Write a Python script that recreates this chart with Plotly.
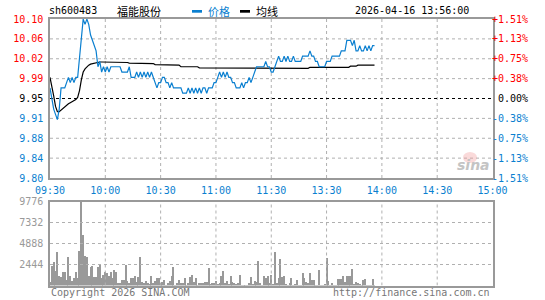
import plotly.graph_objects as go

# ---------------- data ----------------
stock_code = "sh600483"
stock_name = "福能股份"
timestamp = "2026-04-16 13:56:00"
prev_close = 9.95

price = [
    9.97, 9.95, 9.93, 9.92, 9.91, 9.93, 9.97, 9.97, 9.97, 9.98,
    9.99, 9.98, 9.99, 9.98, 9.99, 9.99, 10.03, 10.07, 10.10, 10.09,
    10.10, 10.09, 10.07, 10.06, 10.05, 10.04, 10.01, 10.02, 10.00, 10.01,
    10.00, 10.01, 10.00, 10.01, 10.01, 10.01, 10.01, 10.01, 10.01, 10.00,
    10.00, 10.00, 10.00, 10.01, 9.99, 9.99, 9.99, 10.00, 9.99, 10.00,
    9.99, 10.00, 9.99, 10.00, 9.99, 10.00, 9.99, 9.98, 9.97, 9.98,
    9.98, 9.99, 9.99, 9.98, 9.98, 9.97, 9.98, 9.97, 9.97, 9.97,
    9.97, 9.97, 9.96, 9.96, 9.96, 9.97, 9.96, 9.97, 9.96, 9.97,
    9.96, 9.97, 9.96, 9.97, 9.97, 9.96, 9.97, 9.97, 9.97, 9.98,
    9.98, 9.99, 10.00, 9.99, 10.00, 9.99, 10.00, 9.99, 9.99, 9.98,
    9.98, 9.97, 9.97, 9.97, 9.98, 9.97, 9.98, 9.98, 9.99, 9.98,
    9.99, 10.00, 10.01, 10.01, 10.01, 10.01, 10.01, 10.02, 10.01, 10.01,
    10.00,
    10.00, 10.01, 10.02, 10.03, 10.02, 10.02, 10.03, 10.02, 10.03, 10.02,
    10.02, 10.03, 10.02, 10.02, 10.02, 10.02, 10.03, 10.03, 10.03, 10.03,
    10.04, 10.03, 10.03, 10.02, 10.02, 10.01, 10.01, 10.01, 10.01, 10.02,
    10.02, 10.02, 10.03, 10.03, 10.03, 10.03, 10.03, 10.04, 10.04, 10.04,
    10.06, 10.06, 10.06, 10.05, 10.06, 10.04, 10.04, 10.05, 10.04, 10.04,
    10.05, 10.04, 10.05, 10.04, 10.05, 10.05,
]

avg_price = (
    [9.99, 9.975, 9.955, 9.935, 9.925, 9.925, 9.928, 9.932, 9.935, 9.938,
     9.94, 9.942, 9.944, 9.946, 9.948, 9.952, 9.965, 9.985, 10.0, 10.006,
     10.01, 10.013, 10.015, 10.016, 10.017, 10.018, 10.018, 10.019, 10.019, 10.019]
    + [10.019] * 6 + [10.018] * 7 + [10.017] * 8 + [10.016] * 6
    + [10.014] * 6 + [10.013] * 8 + [10.010] * 10 + [10.008] * 30
    + [10.007] * 30 + [10.009] * 22 + [10.011] * 4 + [10.013] * 10
)

volume = [
    522, 2300, 2765, 1800, 3925, 1218, 1100, 1600, 1600, 754,
    3345, 1140, 640, 986, 1600, 986, 4118, 9776, 5974, 3538,
    3345, 1218, 2185, 2378, 1025, 1025, 2262, 2455, 909, 1295,
    1600, 1527, 1218, 1600, 909, 1914, 1600, 329, 329, 754,
    754, 2494, 640, 329, 909, 909, 1218, 522, 1100, 3345,
    522, 329, 640, 367, 213, 1218, 367, 640, 909, 909,
    367, 522, 754, 97, 329, 640, 1218, 2185, 97, 367,
    754, 367, 367, 909, 97, 329, 1025, 1295, 522, 909,
    97, 329, 329, 329, 522, 522, 2069,
    213, 367, 367, 640, 213, 367, 1218, 1800, 367, 640,
    213, 1218, 522, 367, 213, 367, 1334, 97, 97, 97,
    97, 367, 1100, 213, 640, 522, 2958, 367, 97, 1218,
    909, 1218, 367, 1334,
    213, 3983, 367, 909, 3171, 1025, 1218, 213, 97, 367,
    948, 97, 213, 754, 97, 97, 1527, 909, 522, 367,
    1527, 754, 754, 97, 97, 1914, 97, 97, 213, 3306,
    640, 97, 367, 97, 97, 831, 831, 831, 1218, 522,
    1218, 1218, 1218, 1991, 213, 522, 367, 213, 97, 754,
    831, 97, 97, 97, 831, 97,
]

time_labels = ["09:30", "10:00", "10:30", "11:00", "11:30", "13:30", "14:00", "14:30", "15:00"]
price_labels = ["10.10", "10.06", "10.02", "9.99", "9.95", "9.91", "9.88", "9.84", "9.80"]
pct_labels = ["+1.51%", "+1.13%", "+0.75%", "+0.38%", "0.00%", "-0.38%", "-0.75%", "-1.13%", "-1.51%"]
vol_labels = ["9776", "7332", "4888", "2444"]
vol_max = 9776
max_pct = 0.0151

# ---------------- derived ----------------
W, H = 545, 300
minutes = list(range(len(price)))
tick_pos = [i * 30 for i in range(len(time_labels))]
half = prev_close * max_pct
n_lv = len(price_labels)
price_levels = [prev_close + half - i * (2 * half) / (n_lv - 1) for i in range(n_lv)]
vol_levels = [float(v) for v in vol_labels]
x_end = tick_pos[-1]

RED = "#ff0000"
BLUE = "#0a7fd0"
GRAY = "#999999"
GRID = "#b0b0b0"
MONO = "DejaVu Sans Mono"
CJK = "Noto Sans CJK SC"


def col_for(i):
    mid = (n_lv - 1) // 2
    return RED if i < mid else ("#000000" if i == mid else BLUE)


def px_x(p):
    return p / W


def px_y(p):
    return 1 - p / H


fig = go.Figure()

# grid (line traces at the tick values, drawn underneath)
gx, gy = [], []
for lv in price_levels[1:-1]:
    if abs(lv - prev_close) > 1e-9:
        gx += [0, x_end, None]
        gy += [lv, lv, None]
for t in tick_pos[1:-1]:
    gx += [t, t, None]
    gy += [price_levels[-1], price_levels[0], None]
fig.add_trace(go.Scatter(x=gx, y=gy, mode="lines", line=dict(color=GRID, width=1, dash="dot"),
                         xaxis="x", yaxis="y", hoverinfo="skip"))
vx, vy = [], []
for lv in vol_levels[1:]:
    vx += [0, x_end, None]
    vy += [lv, lv, None]
for t in tick_pos[1:-1]:
    vx += [t, t, None]
    vy += [0, vol_max, None]
fig.add_trace(go.Scatter(x=vx, y=vy, mode="lines", line=dict(color=GRID, width=1, dash="dot"),
                         xaxis="x2", yaxis="y2", hoverinfo="skip"))
# prev close dashed line
fig.add_trace(go.Scatter(x=[0, x_end], y=[prev_close, prev_close], mode="lines",
                         line=dict(color="#000000", width=1, dash="3px,3px"),
                         xaxis="x", yaxis="y", hoverinfo="skip"))

fig.add_trace(go.Scatter(x=minutes, y=avg_price[:len(price)], mode="lines",
                         line=dict(color="#000000", width=1.2), xaxis="x", yaxis="y",
                         hoverinfo="skip"))
fig.add_trace(go.Scatter(x=minutes, y=price, mode="lines",
                         line=dict(color=BLUE, width=1.2), xaxis="x", yaxis="y"))
fig.add_trace(go.Bar(x=minutes, y=volume, marker=dict(color=GRAY, line=dict(width=0)),
                     width=0.6, xaxis="x2", yaxis="y2"))

xdom = [px_x(50), px_x(492.5)]
axis_common = dict(showline=True, linecolor=GRAY, linewidth=1.5, mirror=True,
                   showgrid=False, zeroline=False, ticks="", automargin=False)

fig.update_layout(
    template="none",
    width=W, height=H, margin=dict(l=0, r=0, t=0, b=0, pad=0),
    paper_bgcolor="white", plot_bgcolor="white", showlegend=False,
    bargap=0,
    xaxis=dict(domain=xdom, range=[0, x_end], tickvals=tick_pos, ticktext=time_labels,
               tickfont=dict(family=MONO, size=10, color=BLUE), anchor="y",
               ticklabelstandoff=2, **axis_common),
    yaxis=dict(domain=[px_y(178), px_y(19)], range=[price_levels[-1], price_levels[0]],
               tickvals=price_levels,
               ticktext=[f'<span style="color:{col_for(i)}">{t}</span>' for i, t in enumerate(price_labels)],
               tickfont=dict(family=MONO, size=10), anchor="x", ticklabelstandoff=3,
               **axis_common),
    xaxis2=dict(domain=xdom, range=[0, x_end], tickvals=tick_pos, showticklabels=False,
                anchor="y2", **axis_common),
    yaxis2=dict(domain=[px_y(285.5), px_y(201.5)], range=[0, vol_max], tickvals=vol_levels,
                ticktext=vol_labels, tickfont=dict(family=MONO, size=10, color=GRAY),
                anchor="x2", ticklabelstandoff=3, **axis_common),
)

# right percent labels
for i, t in enumerate(pct_labels):
    fig.add_annotation(xref="paper", yref="y", x=px_x(530), y=price_levels[i], text=t,
                       showarrow=False, xanchor="right", yanchor="middle",
                       font=dict(family=MONO, size=10, color=col_for(i)))

# header
hy = px_y(11)
fig.add_annotation(xref="paper", yref="paper", x=px_x(47), y=hy, text=stock_code, showarrow=False,
                   xanchor="left", yanchor="middle", font=dict(family=MONO, size=10, color="#000"))
fig.add_annotation(xref="paper", yref="paper", x=px_x(115), y=hy, text=stock_name, showarrow=False,
                   xanchor="left", yanchor="middle", font=dict(family=CJK, size=11, color="#000"))
fig.add_shape(type="rect", xref="paper", yref="paper", x0=px_x(192), x1=px_x(202),
              y0=px_y(12.7), y1=px_y(10), fillcolor=BLUE, line=dict(width=0))
fig.add_annotation(xref="paper", yref="paper", x=px_x(206), y=hy, text="价格", showarrow=False,
                   xanchor="left", yanchor="middle", font=dict(family=CJK, size=11, color=BLUE))
fig.add_shape(type="rect", xref="paper", yref="paper", x0=px_x(240), x1=px_x(250),
              y0=px_y(12.7), y1=px_y(10), fillcolor="#000", line=dict(width=0))
fig.add_annotation(xref="paper", yref="paper", x=px_x(254), y=hy, text="均线", showarrow=False,
                   xanchor="left", yanchor="middle", font=dict(family=CJK, size=11, color="#000"))
fig.add_annotation(xref="paper", yref="paper", x=px_x(471), y=hy, text=timestamp, showarrow=False,
                   xanchor="right", yanchor="middle", font=dict(family=MONO, size=10, color="#000"))

# footer
fy = px_y(292)
fig.add_annotation(xref="paper", yref="paper", x=px_x(49), y=fy, text="Copyright 2026 SINA.COM",
                   showarrow=False, xanchor="left", yanchor="middle",
                   font=dict(family=MONO, size=10, color="#777"))
fig.add_annotation(xref="paper", yref="paper", x=px_x(492), y=fy, text="http://finance.sina.com.cn",
                   showarrow=False, xanchor="right", yanchor="middle",
                   font=dict(family=MONO, size=10, color="#777"))

# sina watermark
fig.add_shape(type="circle", xref="paper", yref="paper", x0=px_x(463), x1=px_x(477),
              y0=px_y(163), y1=px_y(152), fillcolor="rgba(240,150,150,0.35)", line=dict(width=0))
fig.add_annotation(xref="paper", yref="paper", x=px_x(473), y=px_y(165), text="<b><i>sina</i></b>",
                   showarrow=False, xanchor="center", yanchor="middle",
                   font=dict(family="DejaVu Sans", size=14, color="#c4c4c4"))

fig.write_html("out.html")
